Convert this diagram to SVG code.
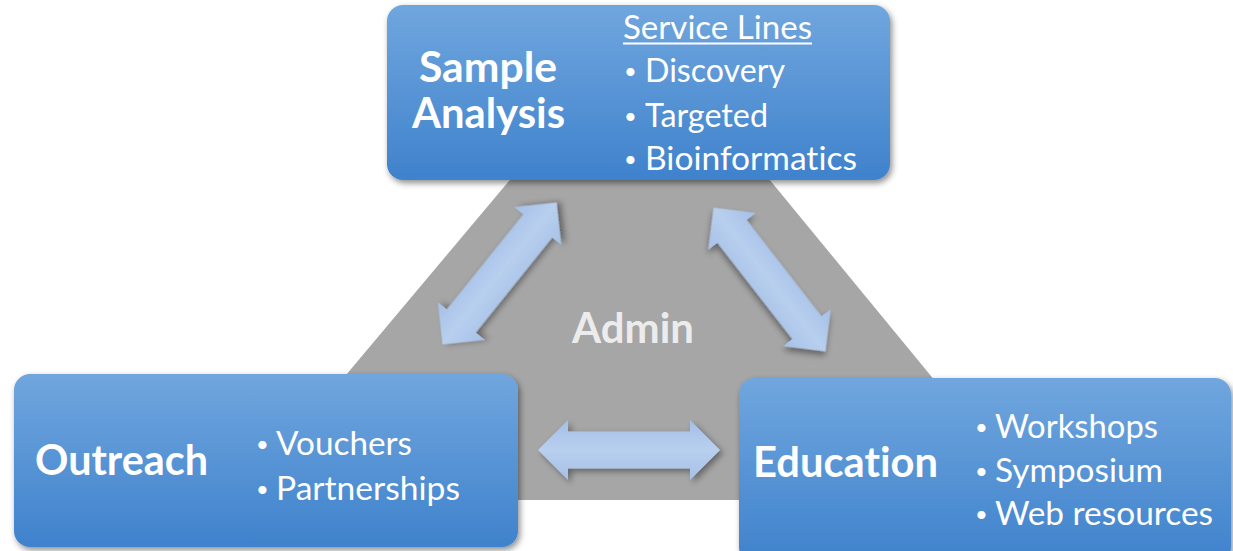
<svg xmlns="http://www.w3.org/2000/svg" width="1233" height="551" viewBox="0 0 1233 551">
<defs>
<linearGradient id="boxGrad" x1="0" y1="0" x2="0" y2="1">
<stop offset="0" stop-color="#70a6de"/>
<stop offset="1" stop-color="#3f82cc"/>
</linearGradient>
<linearGradient id="arrowGrad" x1="0" y1="0" x2="0" y2="1">
<stop offset="0" stop-color="#a4c0e8"/>
<stop offset="0.5" stop-color="#b8cfee"/>
<stop offset="1" stop-color="#a6c1e7"/>
</linearGradient>
<filter id="shadow" x="-10%" y="-10%" width="120%" height="130%">
<feDropShadow dx="2" dy="3" stdDeviation="3" flood-color="#000" flood-opacity="0.45"/>
</filter>
<filter id="ashadow" x="-20%" y="-40%" width="140%" height="180%">
<feDropShadow dx="3" dy="3" stdDeviation="3" flood-color="#000" flood-opacity="0.4"/>
</filter>
<path id="dblArrow" d="M -91,0 L -61,-30 L -61,-18.5 L 61,-18.5 L 61,-30 L 91,0 L 61,30 L 61,18.5 L -61,18.5 L -61,30 Z"/>
</defs>
<style>
text { font-variant-ligatures: none; font-feature-settings: "liga" 0, "clig" 0; }
.box { fill: url(#boxGrad); filter: url(#shadow); }
.title { font-family: Lato, "Open Sans", "Liberation Sans", sans-serif; font-weight: bold; font-size: 42px; fill: #ffffff; }
.item { font-family: Lato, "Open Sans", "Liberation Sans", sans-serif; font-size: 32px; fill: #ffffff; }
.bullet { font-family: Lato, "Open Sans", "Liberation Sans", sans-serif; font-size: 22px; fill: #ffffff; }
.arrow { fill: url(#arrowGrad); filter: url(#ashadow); }
.admin { font-family: Lato, "Open Sans", "Liberation Sans", sans-serif; font-weight: bold; font-size: 42px; fill: #ececec; }
</style>
<rect width="1233" height="551" fill="#ffffff"/>
<g id="admin">
<polygon points="577,100 704,100 1033,500 241,500" fill="#a6a6a6"/>
<text class="admin" x="572" y="343" textLength="122" lengthAdjust="spacingAndGlyphs">Admin</text>
</g>
<g id="connectors">
<use href="#dblArrow" class="arrow" transform="translate(499.5,273.5) rotate(-51.2)"/>
<use href="#dblArrow" class="arrow" transform="translate(769.5,279.5) rotate(52.1)"/>
<use href="#dblArrow" class="arrow" transform="translate(629,450)"/>
</g>
<g id="sample-analysis">
<rect class="box" x="387" y="5" width="503" height="175" rx="16"/>
<text class="title" x="419" y="82" textLength="138" lengthAdjust="spacingAndGlyphs">Sample</text>
<text class="title" x="412" y="128" textLength="153" lengthAdjust="spacingAndGlyphs">Analysis</text>
<text class="item" x="623" y="39" textLength="189" lengthAdjust="spacingAndGlyphs">Service Lines</text>
<rect x="623" y="42.5" width="189" height="2" fill="#ffffff"/>
<text class="bullet" x="624" y="79">•</text>
<text class="item" x="645" y="82" textLength="140" lengthAdjust="spacingAndGlyphs">Discovery</text>
<text class="bullet" x="624" y="124">•</text>
<text class="item" x="645" y="127" textLength="123" lengthAdjust="spacingAndGlyphs">Targeted</text>
<text class="bullet" x="624" y="167">•</text>
<text class="item" x="645" y="170" textLength="212" lengthAdjust="spacingAndGlyphs">Bioinformatics</text>
</g>
<g id="outreach">
<rect class="box" x="14" y="374" width="504" height="173" rx="16"/>
<text class="title" x="35" y="475" textLength="173" lengthAdjust="spacingAndGlyphs">Outreach</text>
<text class="bullet" x="256" y="452">•</text>
<text class="item" x="276" y="455" textLength="136" lengthAdjust="spacingAndGlyphs">Vouchers</text>
<text class="bullet" x="256" y="497">•</text>
<text class="item" x="276" y="500" textLength="184" lengthAdjust="spacingAndGlyphs">Partnerships</text>
</g>
<g id="education">
<rect class="box" x="739" y="378" width="492" height="185" rx="16"/>
<text class="title" x="753" y="477" textLength="185" lengthAdjust="spacingAndGlyphs">Education</text>
<text class="bullet" x="975" y="435">•</text>
<text class="item" x="995" y="438" textLength="163" lengthAdjust="spacingAndGlyphs">Workshops</text>
<text class="bullet" x="975" y="479">•</text>
<text class="item" x="995" y="482" textLength="168" lengthAdjust="spacingAndGlyphs">Symposium</text>
<text class="bullet" x="975" y="522">•</text>
<text class="item" x="995" y="525" textLength="218" lengthAdjust="spacingAndGlyphs">Web resources</text>
</g>
</svg>
